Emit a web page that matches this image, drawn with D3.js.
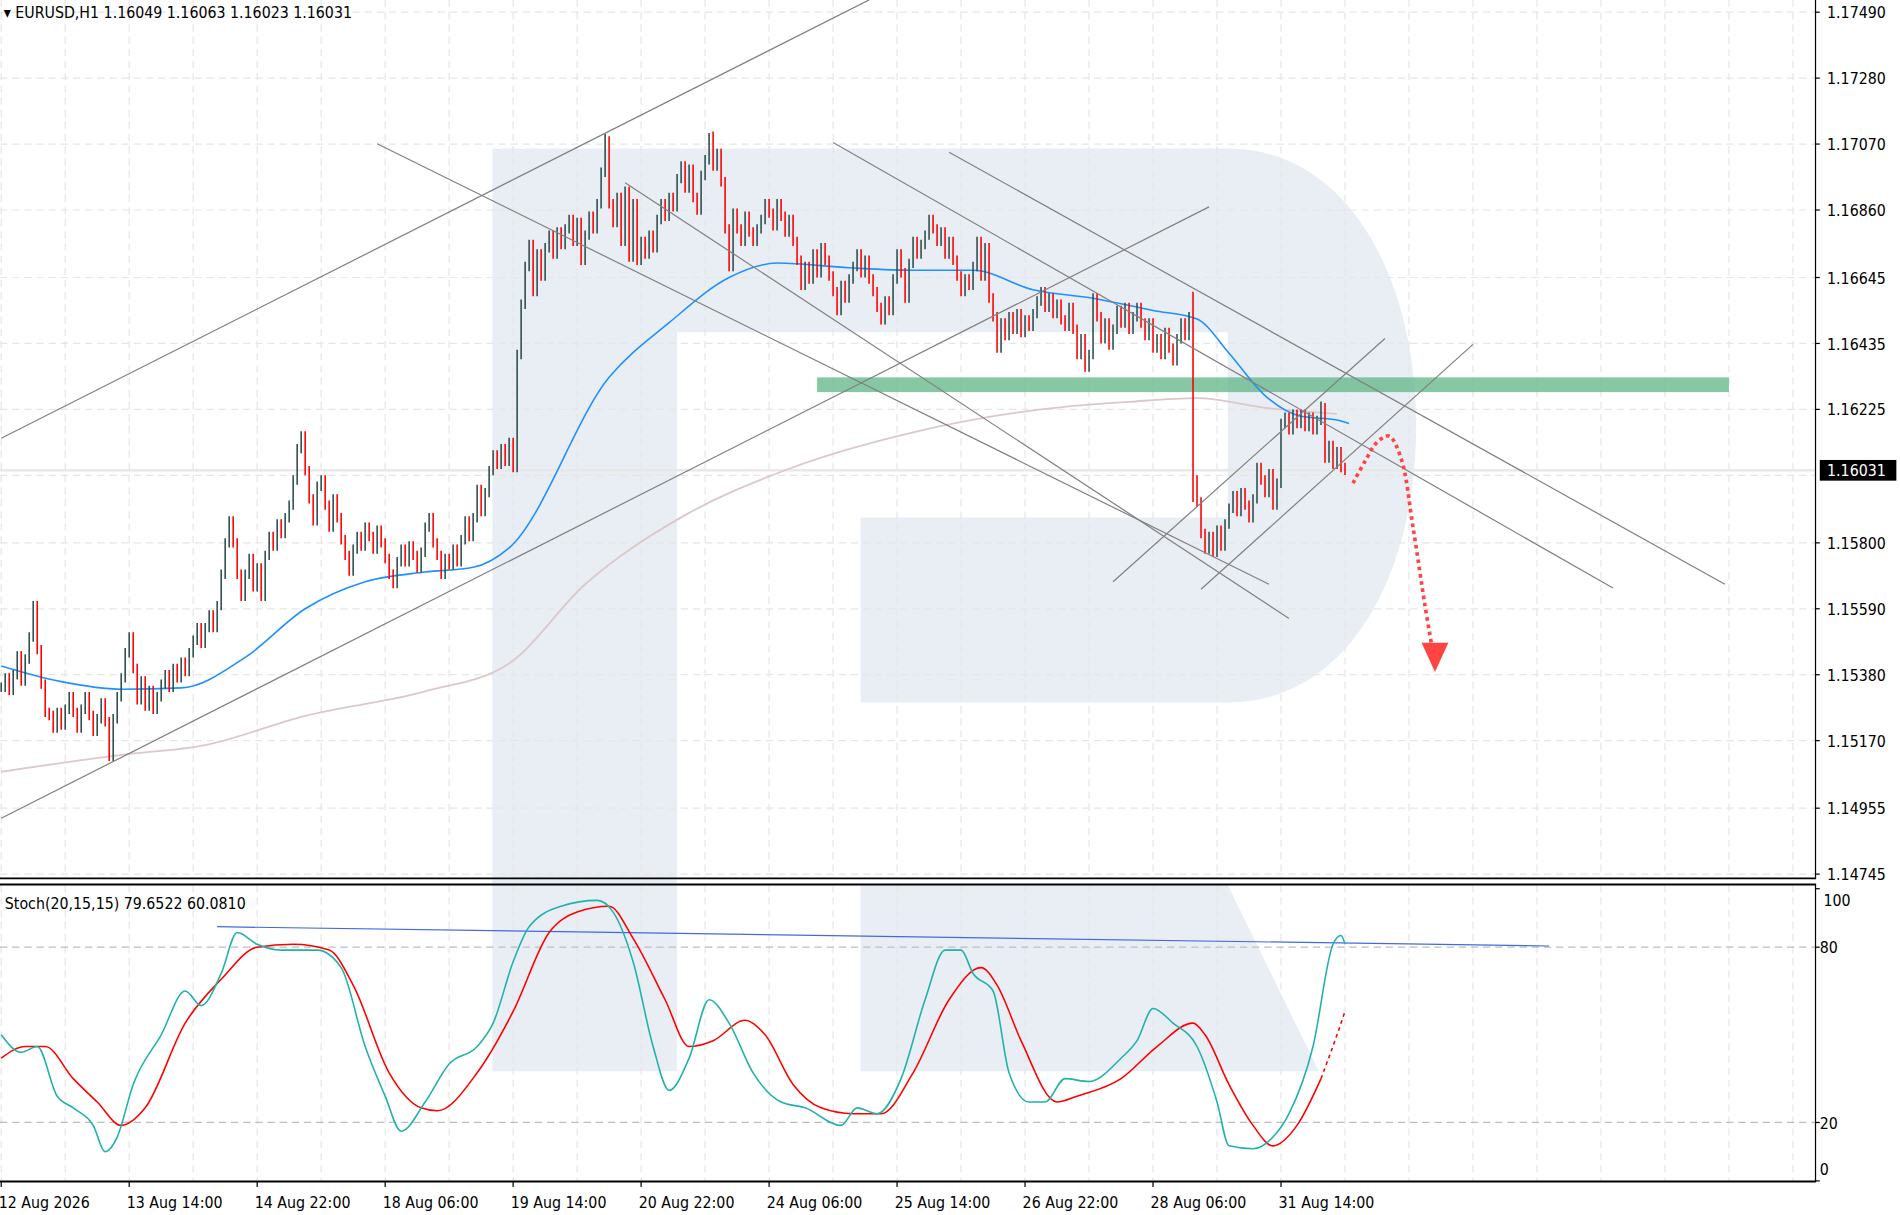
<!DOCTYPE html>
<html>
<head>
<meta charset="utf-8">
<script src="https://cdn.jsdelivr.net/npm/d3@7"></script>
<style>
  body { margin: 0; background: #fff; }
  text { font-family: "DejaVu Sans Condensed", "DejaVu Sans", sans-serif; }
</style>
</head>
<body>
<div id="chart"></div>
<script>
// hourly closes, one per bar
let closes = [
  1.1534,1.1537,1.1533,1.1538,1.1544,1.1536,1.1543,1.1550,1.1560,1.1546,
  1.1535,1.1526,1.1525,1.1521,1.1526,1.1522,1.1527,1.1531,1.1526,1.1521,
  1.1527,1.1531,1.1525,1.1520,1.1524,1.1529,1.1523,1.1512,1.1524,1.1531,
  1.1537,1.1545,1.1550,1.1540,1.1530,1.1536,1.1528,1.1533,1.1527,1.1531,
  1.1535,1.1538,1.1534,1.1540,1.1537,1.1542,1.1539,1.1545,1.1549,1.1553,
  1.1548,1.1553,1.1557,1.1553,1.1560,1.1570,1.1580,1.1587,1.1580,1.1570,
  1.1563,1.1570,1.1575,1.1566,1.1572,1.1563,1.1576,1.1582,1.1579,1.1586,
  1.1583,1.1588,1.1592,1.1600,1.1610,1.1614,1.1603,1.1594,1.1587,1.1598,
  1.1600,1.1592,1.1585,1.1594,1.1588,1.1581,1.1576,1.1571,1.1578,1.1582,
  1.1579,1.1585,1.1582,1.1578,1.1584,1.1580,1.1575,1.1570,1.1567,1.1574,
  1.1578,1.1574,1.1579,1.1576,1.1572,1.1577,1.1585,1.1588,1.1580,1.1576,
  1.1570,1.1575,1.1573,1.1578,1.1574,1.1581,1.1587,1.1582,1.1588,1.1597,
  1.1590,1.1596,1.1603,1.1608,1.1605,1.1610,1.1606,1.1612,1.1604,1.1640,
  1.1656,1.1668,1.1675,1.1660,1.1672,1.1665,1.1674,1.1678,1.1672,1.1679,
  1.1675,1.1680,1.1683,1.1676,1.1682,1.1670,1.1678,1.1684,1.1680,1.1688,
  1.1698,1.1708,1.1688,1.1682,1.1690,1.1676,1.1692,1.1671,1.1688,1.1670,
  1.1676,1.1672,1.1678,1.1674,1.1683,1.1688,1.1684,1.1690,1.1687,1.1696,
  1.1700,1.1693,1.1699,1.1690,1.1686,1.1697,1.1702,1.1709,1.1700,1.1704,
  1.1695,1.1680,1.1668,1.1685,1.1680,1.1676,1.1684,1.1679,1.1676,1.1680,
  1.1683,1.1688,1.1685,1.1681,1.1688,1.1684,1.1679,1.1683,1.1676,1.1670,
  1.1662,1.1668,1.1664,1.1672,1.1666,1.1674,1.1670,1.1665,1.1660,1.1654,
  1.1662,1.1658,1.1664,1.1668,1.1672,1.1666,1.1670,1.1664,1.1660,1.1655,
  1.1651,1.1657,1.1654,1.1664,1.1672,1.1666,1.1658,1.1669,1.1676,1.1672,
  1.1675,1.1678,1.1683,1.1680,1.1676,1.1679,1.1672,1.1676,1.1670,1.1665,
  1.1660,1.1664,1.1662,1.1668,1.1676,1.1665,1.1674,1.1658,1.1652,1.1642,
  1.1650,1.1646,1.1652,1.1648,1.1653,1.1647,1.1651,1.1649,1.1653,1.1657,
  1.1660,1.1655,1.1658,1.1653,1.1656,1.1651,1.1649,1.1655,1.1648,1.1640,
  1.1645,1.1636,1.1640,1.1658,1.1652,1.1645,1.1650,1.1643,1.1648,1.1654,
  1.1650,1.1655,1.1648,1.1652,1.1655,1.1650,1.1646,1.1650,1.1642,1.1645,
  1.1640,1.1647,1.1642,1.1638,1.1645,1.1650,1.1646,1.1652,1.1600,1.1593,
  1.1583,1.1578,1.1582,1.1577,1.1584,1.1579,1.1586,1.1591,1.1595,1.1590,
  1.1596,1.1592,1.1588,1.1594,1.1604,1.1600,1.1596,1.1602,1.1592,1.1599,
  1.1618,1.1620,1.1616,1.1621,1.1618,1.1621,1.1617,1.1620,1.1616,1.1619,
  1.1623,1.1607,1.1611,1.1605,1.1609,1.1604,1.16031
];
// bars whose high/low reach past the body
let spikeBars  = [27, 76, 151, 178, 298, 298, 330];
let spikeLevel = [1.15115, 1.1614, 1.17103, 1.1711, 1.1660, 1.1593, 1.1625];

let maFastBars = [0, 15, 30, 45, 61, 76, 91, 106, 118, 127, 152, 167, 182, 194, 212, 228, 243, 258, 273, 288, 299, 307, 316, 325, 334, 337];
let maFast     = [1.15408,1.15358,1.15334,1.15338,1.15435,1.15590,1.15676,1.15707,1.15722,1.15784,1.16327,1.16501,1.16645,1.16691,1.16676,1.16668,1.16668,1.16606,1.16579,1.16540,1.16513,1.16404,1.16269,1.16203,1.16191,1.16180];
let maSlowBars = [0, 30, 51, 76, 106, 127, 146, 170, 197, 228, 258, 282, 299, 316, 334];
let maSlow     = [1.15071,1.15125,1.15156,1.15249,1.15327,1.15416,1.15668,1.15881,1.16036,1.16152,1.16222,1.16249,1.16261,1.16230,1.16211];

let stochMainBars = [0,5,9,14,18,23,26,29,33,40,46,50,55,59,64,70,79,85,91,96,100,106,112,119,123,128,132,140,149,153,158,163,167,172,177,182,188,195,201,210,214,219,225,231,236,240,243,248,252,257,261,266,272,280,284,288,293,299,304,307,313,318,322,328,333,335,336];
let stochMain     = [50,44,46,29,25,19,10,15,33,50,65,60,71,85,81,79,79,73,46,29,17,27,40,46,54,75,87,94,96,92,75,46,31,42,62,54,37,27,25,19,25,23,35,62,79,79,71,65,37,27,27,35,34,42,48,59,54,46,27,12,11,15,23,46,81,84,81];
let stochSigBars  = [0,6,11,18,24,30,36,46,55,64,73,82,88,97,105,109,119,128,137,144,152,158,166,172,178,186,191,198,205,213,220,228,237,245,249,255,264,269,280,289,298,301,307,313,318,324,330,334,336];
let stochSig      = [42,46,46,35,27,19,25,54,69,80,81,79,67,37,25,24,37,58,85,92,94,83,62,46,48,55,50,33,25,23,23,37,62,73,67,48,27,29,35,46,54,50,33,19,12,19,35,50,58];

let priceTicks = [1.17490,1.17280,1.17070,1.16860,1.16645,1.16435,1.16225,1.15800,1.15590,1.15380,1.15170,1.14955,1.14745];
let gridPrices = [1.17490,1.17280,1.17070,1.16860,1.16645,1.16435,1.16225,1.16015,1.15800,1.15590,1.15380,1.15170,1.14955,1.14745];
let timeLabels = ["12 Aug 2026","13 Aug 14:00","14 Aug 22:00","18 Aug 06:00","19 Aug 14:00","20 Aug 22:00","24 Aug 06:00","25 Aug 14:00","26 Aug 22:00","28 Aug 06:00","31 Aug 14:00"];

// trend lines: [bar1, price1, bar2, price2]
let trendLines = [
  [0, 1.16133, 217, 1.17529],
  [0, 1.14923, 302, 1.16870],
  [94, 1.17071, 317, 1.15668],
  [156, 1.16947, 322, 1.15559],
  [208, 1.17075, 403, 1.15656],
  [237, 1.17044, 431, 1.15668],
  [278, 1.15676, 346, 1.16451],
  [300, 1.15652, 368, 1.16432]
];
let zoneBars = [204, 432], zonePrices = [1.16327, 1.16280];
let forecastBars   = [338, 341, 344, 347, 350, 353, 356, 357.6];
let forecastPrices = [1.1599, 1.1606, 1.1612, 1.1614, 1.1607, 1.1585, 1.1560, 1.1548];
let stochTrend = [54, 87, 387, 80.4];

let lastPrice = 1.16031;

let W = 1563, H = 998;
let svg = d3.select('#chart').append('svg')
  .attr('width', 1900).attr('height', 1215)
  .attr('viewBox', `0 0 ${W} ${H}`)
  .attr('preserveAspectRatio', 'none');

let x = d3.scaleLinear().domain([0, 453]).range([1, 1 + 3.29 * 453]);
let y = d3.scaleLinear().domain([1.14745, 1.17490]).range([718, 10]);
let ys = d3.scaleLinear().domain([0, 100]).range([970, 730]);

let defs = svg.append('defs');
defs.append('clipPath').attr('id', 'mainClip').append('rect').attr('x', 0).attr('y', 0).attr('width', 1493).attr('height', 721);
defs.append('clipPath').attr('id', 'subClip').append('rect').attr('x', 0).attr('y', 727).attr('width', 1493).attr('height', 243);

// watermark logo
let logo = svg.append('g').attr('fill', '#e9eef5');
logo.append('rect').attr('x', 405).attr('y', 122).attr('width', 152).attr('height', 758);
logo.append('path').attr('d', 'M557,122 H1010 C1110,122 1165,230 1165,350 C1165,470 1110,577 1010,577 H708 V425 H1010 V273 H557 Z');
logo.append('path').attr('d', 'M708,727 H1010 L1085,880 H708 Z');

// grid
let gridG = svg.append('g').attr('stroke', '#e6e6e6').attr('stroke-dasharray', '6,4');
let vgrid = d3.range(0, 454, 16);
gridG.selectAll('.vg1').data(vgrid).enter().append('line')
  .attr('x1', d => x(d)).attr('x2', d => x(d)).attr('y1', 0).attr('y2', 721);
gridG.selectAll('.vg2').data(vgrid).enter().append('line')
  .attr('x1', d => x(d)).attr('x2', d => x(d)).attr('y1', 727).attr('y2', 970);
gridG.selectAll('.hg').data(gridPrices).enter().append('line')
  .attr('x1', 0).attr('x2', 1493).attr('y1', d => y(d)).attr('y2', d => y(d));
svg.selectAll('.lvl').data([80, 20]).enter().append('line')
  .attr('x1', 0).attr('x2', 1493).attr('y1', d => ys(d)).attr('y2', d => ys(d))
  .attr('stroke', '#bdbdbd').attr('stroke-dasharray', '6,4');

// current price line
svg.append('line').attr('x1', 0).attr('x2', 1493).attr('y1', y(lastPrice)).attr('y2', y(lastPrice))
  .attr('stroke', '#e8e8e8').attr('stroke-width', 2);

let main = svg.append('g').attr('clip-path', 'url(#mainClip)');

// support zone
main.append('rect')
  .attr('x', x(zoneBars[0])).attr('width', x(zoneBars[1]) - x(zoneBars[0]))
  .attr('y', y(zonePrices[0])).attr('height', y(zonePrices[1]) - y(zonePrices[0]))
  .attr('fill', '#5fb585').attr('opacity', 0.75);

// moving averages
let line = d3.line().curve(d3.curveMonotoneX);
let slowPts = maSlowBars.map((b, i) => [x(b), y(maSlow[i])]);
main.append('path').attr('d', line(slowPts)).attr('fill', 'none').attr('stroke', '#dcc8c8').attr('stroke-width', 1.5);
let fastPts = maFastBars.map((b, i) => [x(b), y(maFast[i])]);
main.append('path').attr('d', line(fastPts)).attr('fill', 'none').attr('stroke', '#1e90ff').attr('stroke-width', 1.3);

// bars
let wick = 0.00015;
let bars = closes.map((c, i) => {
  let o = i > 0 ? closes[i - 1] : c;
  let hi = Math.max(o, c) + wick, lo = Math.min(o, c) - wick;
  spikeBars.forEach((b, k) => {
    if (b === i) { hi = Math.max(hi, spikeLevel[k]); lo = Math.min(lo, spikeLevel[k]); }
  });
  return { i, o, c, hi, lo };
});
main.selectAll('.bar').data(bars).enter().append('line')
  .attr('x1', d => x(d.i)).attr('x2', d => x(d.i))
  .attr('y1', d => y(d.hi)).attr('y2', d => y(d.lo))
  .attr('stroke', d => d.c < d.o ? '#ff0000' : '#2f4f4f')
  .attr('stroke-width', 1.3);

// trend lines
main.selectAll('.tl').data(trendLines).enter().append('line')
  .attr('x1', d => x(d[0])).attr('y1', d => y(d[1]))
  .attr('x2', d => x(d[2])).attr('y2', d => y(d[3]))
  .attr('stroke', '#808080').attr('stroke-width', 1);

// forecast arrow
let fPts = forecastBars.map((b, i) => [x(b), y(forecastPrices[i])]);
main.append('path').attr('d', d3.line().curve(d3.curveCatmullRom)(fPts))
  .attr('fill', 'none').attr('stroke', '#ff4444').attr('stroke-width', 3).attr('stroke-dasharray', '3,3');
let tip = [x(358.5), y(1.15389)];
main.append('path')
  .attr('d', `M${tip[0]},${tip[1]} L${tip[0] - 11},${tip[1] - 24} L${tip[0] + 11},${tip[1] - 24} Z`)
  .attr('fill', '#ff4444');

// stochastic
let sub = svg.append('g').attr('clip-path', 'url(#subClip)');
let stLine = d3.line().curve(d3.curveMonotoneX);
sub.append('line')
  .attr('x1', x(stochTrend[0])).attr('y1', ys(stochTrend[1]))
  .attr('x2', x(stochTrend[2])).attr('y2', ys(stochTrend[3]))
  .attr('stroke', '#4169e1').attr('stroke-width', 1);
let sigPts = stochSigBars.map((b, i) => [x(b), ys(stochSig[i])]);
let cut = stochSigBars.findIndex(b => b >= 330);
sub.append('path').attr('d', stLine(sigPts.slice(0, cut + 1))).attr('fill', 'none').attr('stroke', '#ff0000').attr('stroke-width', 1.3);
sub.append('path').attr('d', stLine(sigPts.slice(cut))).attr('fill', 'none').attr('stroke', '#ff0000').attr('stroke-width', 1.3).attr('stroke-dasharray', '3,3');
let mainPts = stochMainBars.map((b, i) => [x(b), ys(stochMain[i])]);
sub.append('path').attr('d', stLine(mainPts)).attr('fill', 'none').attr('stroke', '#20b2aa').attr('stroke-width', 1.3);

// frames
let frame = svg.append('g').attr('stroke', '#000').attr('fill', 'none');
frame.append('line').attr('x1', 1493.5).attr('x2', 1493.5).attr('y1', 0).attr('y2', 721);
frame.append('line').attr('x1', 0).attr('x2', 1494).attr('y1', 721.5).attr('y2', 721.5).attr('stroke-width', 1.5);
frame.append('line').attr('x1', 0).attr('x2', 1494).attr('y1', 726.5).attr('y2', 726.5).attr('stroke-width', 1.5);
frame.append('line').attr('x1', 1493.5).attr('x2', 1493.5).attr('y1', 727).attr('y2', 970);
frame.append('line').attr('x1', 0).attr('x2', 1494).attr('y1', 970.5).attr('y2', 970.5).attr('stroke-width', 1.5);

// price axis
let pAxis = svg.append('g');
pAxis.selectAll('.tk').data(priceTicks).enter().append('line')
  .attr('x1', 1493).attr('x2', 1497).attr('y1', d => y(d)).attr('y2', d => y(d)).attr('stroke', '#000');
pAxis.selectAll('.tx').data(priceTicks).enter().append('text')
  .attr('x', 1503).attr('y', d => y(d) + 5)
  .attr('font-size', 13).attr('fill', '#000')
  .text(d => d.toFixed(5));
pAxis.append('rect').attr('x', 1497).attr('y', y(lastPrice) - 8.5).attr('width', 63).attr('height', 17).attr('fill', '#000');
pAxis.append('text').attr('x', 1503).attr('y', y(lastPrice) + 5).attr('font-size', 13).attr('fill', '#fff').text(lastPrice.toFixed(5));

let sTicks = [100, 80, 20, 0];
let sAxis = svg.append('g');
sAxis.selectAll('.tk').data(sTicks).enter().append('line')
  .attr('x1', 1493).attr('x2', 1497).attr('y1', d => ys(d)).attr('y2', d => ys(d)).attr('stroke', '#000');
sAxis.selectAll('.tx').data(sTicks).enter().append('text')
  .attr('x', d => d === 100 ? 1500 : 1497).attr('y', d => d === 100 ? ys(d) + 14 : d === 0 ? ys(d) - 5 : ys(d) + 5)
  .attr('font-size', 13).attr('fill', '#000')
  .text(d => d);

// time axis
let tAxis = svg.append('g');
tAxis.selectAll('.tk').data(timeLabels).enter().append('line')
  .attr('x1', (d, i) => x(i * 32)).attr('x2', (d, i) => x(i * 32))
  .attr('y1', 970).attr('y2', 975).attr('stroke', '#000');
tAxis.selectAll('.tx').data(timeLabels).enter().append('text')
  .attr('x', (d, i) => x(i * 32) - 2).attr('y', 992)
  .attr('font-size', 13).attr('fill', '#000')
  .text(d => d);

// headers
svg.append('text').attr('x', 3).attr('y', 15).attr('font-size', 13).attr('fill', '#000')
  .text('▾ EURUSD,H1  1.16049 1.16063 1.16023 1.16031');
svg.append('text').attr('x', 4).attr('y', 747).attr('font-size', 13).attr('fill', '#000')
  .text('Stoch(20,15,15) 79.6522 60.0810');
</script>
</body>
</html>
